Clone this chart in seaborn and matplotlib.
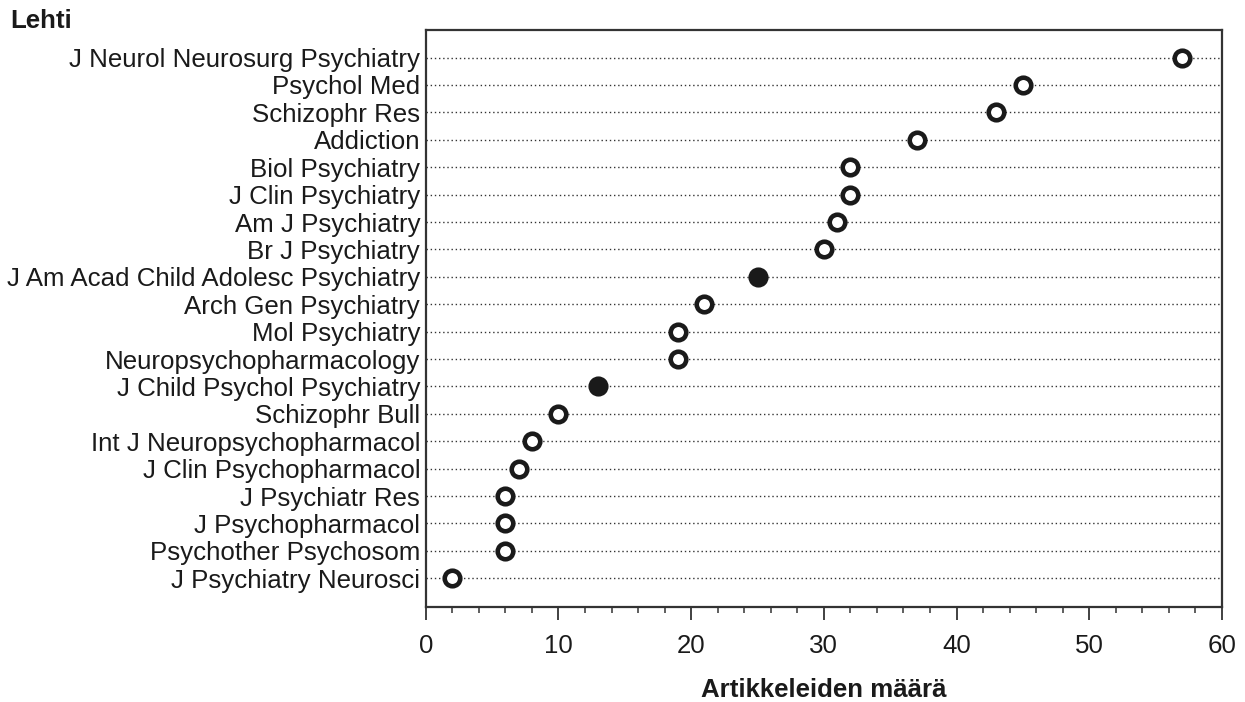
import matplotlib
matplotlib.use("Agg")
import matplotlib.pyplot as plt
import seaborn as sns
import pandas as pd
from matplotlib.ticker import MultipleLocator

journals = [
    "J Neurol Neurosurg Psychiatry", "Psychol Med", "Schizophr Res", "Addiction",
    "Biol Psychiatry", "J Clin Psychiatry", "Am J Psychiatry", "Br J Psychiatry",
    "J Am Acad Child Adolesc Psychiatry", "Arch Gen Psychiatry", "Mol Psychiatry",
    "Neuropsychopharmacology", "J Child Psychol Psychiatry", "Schizophr Bull",
    "Int J Neuropsychopharmacol", "J Clin Psychopharmacol", "J Psychiatr Res",
    "J Psychopharmacol", "Psychother Psychosom", "J Psychiatry Neurosci",
]
counts = [57, 45, 43, 37, 32, 32, 31, 30, 25, 21, 19, 19, 13, 10, 8, 7, 6, 6, 6, 2]
child_journal = [False, False, False, False, False, False, False, False, True, False,
                 False, False, True, False, False, False, False, False, False, False]
x_ticks = [0, 10, 20, 30, 40, 50, 60]

df = pd.DataFrame({"journal": journals, "count": counts, "child": child_journal})

sns.set_theme(style="white")
plt.rcParams["font.family"] = ["Liberation Sans", "DejaVu Sans"]

fig = plt.figure(figsize=(12.45, 7.02), dpi=100)
ax = fig.add_axes([0.342, 0.1353, 0.6395, 0.8217])

ink = "#1a1a1a"
open_df = df[~df["child"]]
fill_df = df[df["child"]]
sns.stripplot(data=open_df, x="count", y="journal", order=journals, jitter=False,
              color="white", edgecolor=ink, linewidth=3.3, size=11.2, ax=ax, zorder=3)
sns.stripplot(data=fill_df, x="count", y="journal", order=journals, jitter=False,
              color=ink, edgecolor=ink, linewidth=3.3, size=11.2, ax=ax, zorder=3)

ax.set_xlim(0, 60)
ax.set_ylim(len(journals) - 1 + 1.05, -1.0)
ax.set_xticks(x_ticks)
ax.xaxis.set_minor_locator(MultipleLocator(2))
ax.set_axisbelow(True)
ax.yaxis.grid(True, linestyle=(0, (1, 2)), color="#333333", linewidth=1.0)
ax.xaxis.grid(False)

for s in ax.spines.values():
    s.set_visible(True)
    s.set_color("#333333")
    s.set_linewidth(1.6)

fs = 18.6
ax.tick_params(axis="y", length=0, pad=4, labelsize=fs, labelcolor="#1a1a1a")
ax.tick_params(axis="x", which="major", direction="out", length=9.5, width=1.3,
               color="#333333", pad=10, labelsize=fs, labelcolor="#1a1a1a", bottom=True)
ax.tick_params(axis="x", which="minor", direction="out", length=4, width=1.1,
               color="#333333", bottom=True)

ax.set_ylabel("")
ax.set_xlabel("Artikkeleiden määrä", fontsize=fs, fontweight="bold", color="#1a1a1a",
              labelpad=14)
fig.text(0.008, 0.987, "Lehti", fontsize=fs, fontweight="bold", color="#1a1a1a",
         ha="left", va="top")

fig.savefig("out.png", dpi=100)
